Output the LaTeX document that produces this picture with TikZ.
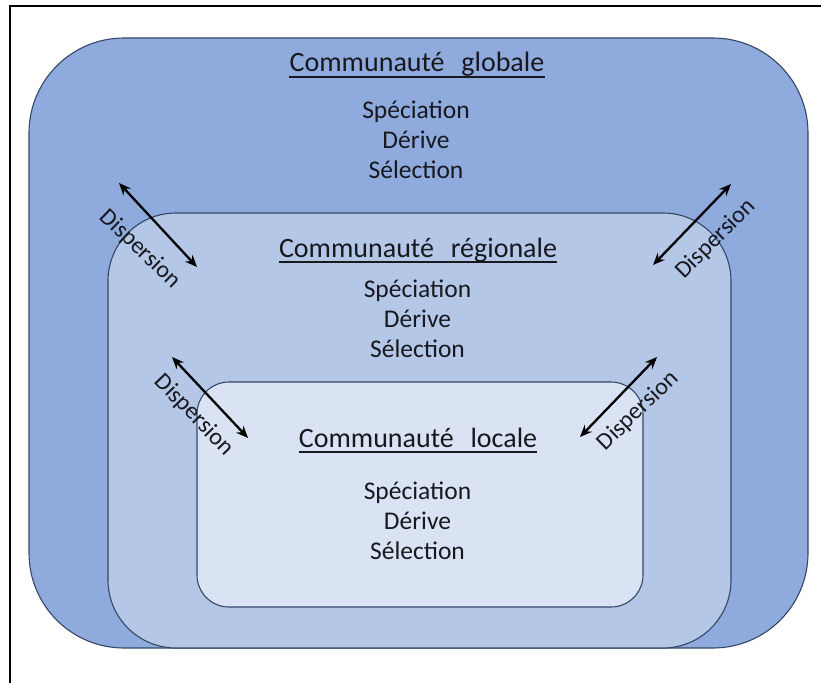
\documentclass[tikz,border=0pt]{standalone}
\usepackage{fontspec}
\setmainfont{Carlito}
\usetikzlibrary{arrows.meta}
\definecolor{outerfill}{HTML}{8FAADC}
\definecolor{regfill}{HTML}{B4C7E7}
\definecolor{locfill}{HTML}{DAE3F3}
\definecolor{edgecol}{HTML}{354766}
\definecolor{ink}{HTML}{18181F}
\begin{document}
\begin{tikzpicture}[x=1pt,y=-1pt,
  boxshape/.style={draw=edgecol, line width=1.1pt, inner sep=0pt},
  titletext/.style={anchor=base, inner sep=0pt, font=\fontsize{28}{30}\selectfont, text=ink},
  bodytext/.style={anchor=base, inner sep=0pt, font=\fontsize{25.5}{27}\selectfont, text=ink},
  disptext/.style={inner sep=0pt, font=\fontsize{24}{26}\selectfont, text=ink},
  arr/.style={{Stealth[length=12pt,width=10pt]}-{Stealth[length=12pt,width=10pt]}, line width=2.3pt, draw=black},
  uline/.style={draw=ink, line width=1.6pt}
]
\useasboundingbox (0,0) rectangle (821,682);
\clip (0,0) rectangle (821,682);
\fill[white] (0,0) rectangle (821,682);
% frame
\draw[line width=2pt, black] (10,700) -- (10,6) -- (840,6);

% boxes
\node[boxshape, fill=outerfill, rounded corners=95pt, minimum width=779pt, minimum height=610pt] (glob) at (418.5,343) {};
\node[boxshape, fill=regfill, rounded corners=68pt, minimum width=623pt, minimum height=435pt] (reg) at (419.5,430.5) {};
\node[boxshape, fill=locfill, rounded corners=32pt, minimum width=446pt, minimum height=225pt] (loc) at (420,494.5) {};

% global
\node[titletext] (tg) at (417,72) {Communauté\hspace{0.6em}globale};
\draw[uline] ([yshift=-5pt]tg.base west) -- ([yshift=-5pt]tg.base east);
\node[bodytext] (g1) at (416,118) {Spéciation};
\node[bodytext] (g2) at (416,148) {Dérive};
\node[bodytext] (g3) at (416,178) {Sélection};

% regional
\node[titletext] (tr) at (418,257) {Communauté\hspace{0.6em}régionale};
\draw[uline] ([yshift=-5pt]tr.base west) -- ([yshift=-5pt]tr.base east);
\node[bodytext] (r1) at (417.5,297) {Spéciation};
\node[bodytext] (r2) at (417.5,327) {Dérive};
\node[bodytext] (r3) at (417.5,357) {Sélection};

% local
\node[titletext] (tl) at (418,447) {Communauté\hspace{0.6em}locale};
\draw[uline] ([yshift=-5pt]tl.base west) -- ([yshift=-5pt]tl.base east);
\node[bodytext] (l1) at (417.5,499) {Spéciation};
\node[bodytext] (l2) at (417.5,529) {Dérive};
\node[bodytext] (l3) at (417.5,559) {Sélection};

% dispersion arrows
\coordinate (a1s) at (119,183); \coordinate (a1e) at (197,267);
\coordinate (a2s) at (653,265); \coordinate (a2e) at (731,184);
\coordinate (a3s) at (172,357); \coordinate (a3e) at (248,438);
\coordinate (a4s) at (580,437); \coordinate (a4e) at (657,357);
\draw[arr] (a1s) -- (a1e);
\draw[arr] (a2s) -- (a2e);
\draw[arr] (a3s) -- (a3e);
\draw[arr] (a4s) -- (a4e);
\node[disptext, rotate=-44] (d1) at (140,249) {Dispersion};
\node[disptext, rotate=45] (d2) at (716,239) {Dispersion};
\node[disptext, rotate=-46] (d3) at (194,415) {Dispersion};
\node[disptext, rotate=44] (d4) at (638,411) {Dispersion};
\end{tikzpicture}
\end{document}
